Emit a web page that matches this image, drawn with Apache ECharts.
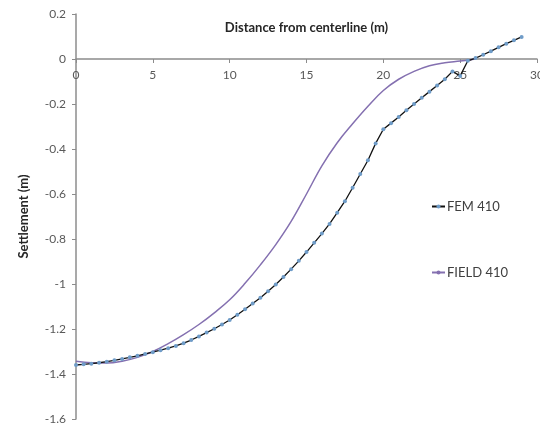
<!DOCTYPE html>
<html>
<head>
<meta charset="utf-8">
<script src="https://cdn.jsdelivr.net/npm/echarts@6/dist/echarts.min.js"></script>
<style>
  html, body { margin: 0; padding: 0; background: #fff; }
  #chart { width: 540px; height: 430px; }
</style>
</head>
<body>
<div id="chart"></div>
<script>
// distance from centerline (m) and settlement (m)
const femX = [0, 0.5, 1, 1.5, 2, 2.5, 3, 3.5, 4, 4.5, 5, 5.5, 6, 6.5, 7, 7.5, 8, 8.5, 9, 9.5,
  10, 10.5, 11, 11.5, 12, 12.5, 13, 13.5, 14, 14.5, 15, 15.5, 16, 16.5, 17, 17.5, 18, 18.5, 19, 19.5,
  20, 20.5, 21, 21.5, 22, 22.5, 23, 23.5, 24, 24.5, 25, 25.5, 26, 26.5, 27, 27.5, 28, 28.5, 29];
const femY = [-1.360, -1.357, -1.354, -1.350, -1.345, -1.339, -1.333, -1.326, -1.319, -1.311,
  -1.303, -1.294, -1.285, -1.275, -1.263, -1.249, -1.233, -1.216, -1.199, -1.180,
  -1.160, -1.137, -1.112, -1.087, -1.061, -1.032, -1.002, -0.969, -0.934, -0.897,
  -0.858, -0.817, -0.776, -0.733, -0.683, -0.632, -0.572, -0.511, -0.450, -0.375,
  -0.312, -0.285, -0.258, -0.228, -0.200, -0.172, -0.145, -0.118, -0.090, -0.055,
  -0.075, -0.008, 0.004, 0.019, 0.035, 0.052, 0.068, 0.083, 0.098];

const fieldX = [0, 1, 2, 3, 4, 5, 6, 7, 8, 9, 10, 11, 12, 13, 14, 15, 16, 17, 18, 19, 20, 21, 22, 23, 24, 25, 26];
const fieldY = [-1.343, -1.350, -1.351, -1.343, -1.326, -1.300, -1.265, -1.225, -1.180, -1.128,
  -1.070, -0.997, -0.915, -0.825, -0.722, -0.600, -0.475, -0.372, -0.288, -0.210,
  -0.140, -0.090, -0.055, -0.030, -0.017, -0.009, 0.000];

const xTicks = { min: 0, max: 30, step: 5 };
const yTicks = { min: -1.6, max: 0.2, step: 0.2 };

const fem = femX.map((x, i) => [x, femY[i]]);
const field = fieldX.map((x, i) => [x, fieldY[i]]);

const font = "Lato, 'Open Sans', sans-serif";
const axisGray = "#8c8c8c";

let myChart = echarts.init(document.getElementById("chart"));
myChart.setOption({
  animation: false,
  textStyle: { fontFamily: font },
  grid: { left: 76, right: 3, top: 14, bottom: 11, outerBoundsMode: "none", containLabel: false },
  legend: {
    orient: "vertical",
    left: 426,
    top: 195,
    itemGap: 53,
    itemWidth: 13,
    itemHeight: 5,
    textStyle: { fontFamily: font, fontSize: 13, color: "#404040", padding: [0, 0, 0, -3] },
    data: ["FEM 410", "FIELD 410"]
  },
  xAxis: {
    type: "value",
    position: "top",
    offset: -45, // sits on the zero line, 0.2 of the y range below the top
    min: xTicks.min,
    max: xTicks.max,
    interval: xTicks.step,
    name: "Distance from centerline (m)",
    nameLocation: "middle",
    nameGap: 25,
    nameTextStyle: { fontFamily: font, fontSize: 13, fontWeight: "bold", color: "#262626" },
    axisLine: { onZero: false, lineStyle: { color: axisGray, width: 1.5 } },
    axisTick: { show: true, inside: true, length: 4, lineStyle: { color: axisGray } },
    axisLabel: { inside: true, margin: 10, fontSize: 12, color: "#595959", verticalAlign: "top" },
    splitLine: { show: false }
  },
  yAxis: {
    type: "value",
    min: yTicks.min,
    max: yTicks.max,
    interval: yTicks.step,
    name: "Settlement (m)",
    nameLocation: "middle",
    nameGap: 46,
    nameTextStyle: { fontFamily: font, fontSize: 13, fontWeight: "bold", color: "#262626" },
    axisLine: { show: true, onZero: false, lineStyle: { color: axisGray, width: 1.5 } },
    axisTick: { show: true, length: 4, lineStyle: { color: axisGray } },
    axisLabel: { margin: 10, fontSize: 12, color: "#595959" },
    splitLine: { show: false }
  },
  series: [
    {
      name: "FIELD 410",
      type: "line",
      data: field,
      smooth: 0.4,
      symbol: "none",
      lineStyle: { color: "#8470b0", width: 1.5 },
      itemStyle: { color: "#8470b0" },
      z: 2
    },
    {
      name: "FEM 410",
      type: "line",
      data: fem,
      symbol: "circle",
      symbolSize: 4,
      lineStyle: { color: "#111111", width: 1.3 },
      itemStyle: { color: "#6f9cc8", borderWidth: 0 },
      z: 3
    }
  ]
});
</script>
</body>
</html>
